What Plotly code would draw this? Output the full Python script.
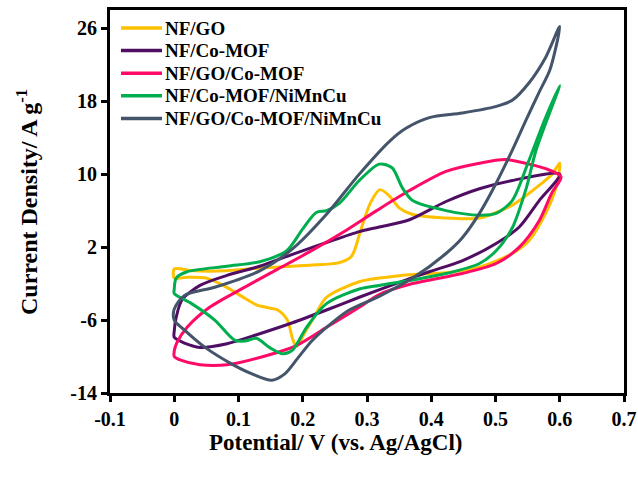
import plotly.graph_objects as go

# ---- data (Potential V vs Ag/AgCl, Current density A/g) ----
names = ["NF/GO", "NF/Co-MOF", "NF/GO/Co-MOF", "NF/Co-MOF/NiMnCu", "NF/GO/Co-MOF/NiMnCu"]
colors = ["#FFC000", "#4F0E63", "#FF0A66", "#00AE4F", "#44546A"]

go_v = [0, 0.03, 0.08, 0.133, 0.21, 0.257, 0.276, 0.29, 0.305, 0.32, 0.335, 0.35, 0.37, 0.42, 0.475,
        0.526, 0.563, 0.588, 0.60,
        0.594, 0.578, 0.552, 0.526, 0.475, 0.423, 0.371, 0.319, 0.288, 0.237, 0.215, 0.203, 0.19,
        0.184, 0.176, 0.161, 0.13, 0.105, 0.079, 0.05, 0.02, 0, 0]
go_i = [-0.4, -0.6, -0.6, -0.3, 0.0, 0.3, 1.0, 3.8, 6.8, 8.3, 7.6, 6.3, 5.6, 5.2, 5.2,
        6.6, 8.5, 10.0, 11.2,
        8.5, 5.7, 2.7, 1.3, -0.2, -0.8, -1.0, -1.4, -1.8, -3.5, -6.0, -7.4, -8.9,
        -8.0, -6.0, -4.9, -4.4, -3.4, -2.3, -1.4, -1.3, -1.4, -0.4]

mof_v = [0, 0.003, 0.012, 0.04, 0.082, 0.133, 0.184, 0.237, 0.288, 0.319, 0.366, 0.423, 0.475, 0.526, 0.60,
         0.568, 0.537, 0.501, 0.448, 0.397, 0.345, 0.288, 0.237, 0.184, 0.133, 0.082, 0.04, 0.015, 0, 0]
mof_i = [-7.2, -5.7, -3.8, -2.2, -1.1, -0.1, 1.2, 2.5, 3.7, 4.2, 5.0, 7.0, 8.4, 9.3, 10.0,
         7.1, 4.2, 2.4, 0.5, -0.7, -2.0, -3.5, -4.9, -6.3, -7.5, -8.6, -9.0, -8.5, -7.9, -7.2]

gomof_v = [0, 0.004, 0.02, 0.055, 0.107, 0.159, 0.211, 0.262, 0.315, 0.366, 0.423, 0.475, 0.516, 0.552, 0.578, 0.602,
           0.588, 0.568, 0.537, 0.501, 0.448, 0.371, 0.319, 0.288, 0.237, 0.19, 0.133, 0.082, 0.04, 0.01, 0, 0]
gomof_i = [-9.4, -8.5, -6.8, -4.6, -2.5, -0.5, 1.5, 3.6, 6.0, 8.2, 10.3, 11.2, 11.6, 11.1, 10.6, 9.7,
           8.0, 4.9, 2.0, 0.2, -0.9, -2.0, -3.2, -4.6, -6.8, -8.8, -10.1, -10.9, -10.9, -10.4, -10.0, -9.4]

mofn_v = [0, 0.003, 0.02, 0.082, 0.133, 0.175, 0.20, 0.221, 0.237, 0.257, 0.288, 0.319, 0.339, 0.355, 0.371,
          0.423, 0.475, 0.501, 0.526, 0.552, 0.578, 0.60,
          0.563, 0.548, 0.526, 0.501, 0.475, 0.423, 0.371, 0.319, 0.288, 0.237, 0.206, 0.184, 0.169, 0.148,
          0.128, 0.11, 0.094, 0.063, 0.027, 0, 0]
mofn_i = [-2.6, -1.4, -0.7, -0.1, 0.4, 1.6, 4.0, 5.8, 6.0, 6.8, 9.3, 11.1, 10.7, 8.5, 7.1,
          6.0, 5.5, 5.7, 7.1, 11.5, 16.2, 19.7,
          12.6, 8.5, 4.1, 1.6, 0.2, -0.9, -1.6, -2.2, -2.6, -4.2, -6.8, -9.3, -9.7, -9.0,
          -8.0, -8.3, -8.2, -6.0, -4.2, -3.1, -2.6]

all_v = [0, 0.016, 0.063, 0.133, 0.184, 0.237, 0.288, 0.335, 0.36, 0.397, 0.448, 0.50, 0.526, 0.552, 0.578, 0.60,
         0.585, 0.568, 0.548, 0.526, 0.501, 0.475, 0.448, 0.423, 0.371, 0.319, 0.27, 0.237, 0.214, 0.192,
         0.172, 0.152, 0.121, 0.089, 0.048, 0.016, 0, 0]
all_i = [-4.8, -3.3, -2.4, -0.6, 1.8, 5.6, 10.0, 13.6, 15.0, 16.2, 16.7, 17.4, 18.1, 20.0, 22.8, 26.2,
         21.5, 19.0, 16.0, 12.6, 9.0, 5.7, 3.0, 1.3, -1.4, -3.4, -5.0, -6.8, -8.3, -10.2,
         -11.9, -12.6, -11.9, -10.8, -9.0, -7.1, -6.0, -4.8]

x_ticks = [-0.1, 0, 0.1, 0.2, 0.3, 0.4, 0.5, 0.6, 0.7]
x_labels = ["-0.1", "0", "0.1", "0.2", "0.3", "0.4", "0.5", "0.6", "0.7"]
y_ticks = [-14, -6, 2, 10, 18, 26]
y_labels = ["-14", "-6", "2", "10", "18", "26"]

series = [(go_v, go_i), (mof_v, mof_i), (gomof_v, gomof_i), (mofn_v, mofn_i), (all_v, all_i)]

FONT = "Liberation Serif"
PL, PR, PT, PB = 110, 14, 10, 93
W, H = 638, 486
PW, PH = W - PL - PR, H - PT - PB


def px_x(px):
    return (px - PL) / PW


def px_y(py):
    return (H - PB - py) / PH


fig = go.Figure()
for (xv, yv), nm, col in zip(series, names, colors):
    fig.add_trace(go.Scatter(x=xv, y=yv, mode="lines", name=nm, showlegend=False,
                             line=dict(color=col, width=3, shape="spline", smoothing=0.8)))

# legend drawn as line samples + real text
shapes = []
annotations = []
for k, (nm, col) in enumerate(zip(names, colors)):
    yy = px_y(28 + k * 22.6)
    shapes.append(dict(type="line", xref="paper", yref="paper",
                       x0=px_x(121), x1=px_x(162), y0=yy, y1=yy,
                       line=dict(color=col, width=3.5)))
    annotations.append(dict(text=nm, xref="paper", yref="paper", x=px_x(163), y=yy,
                            xanchor="left", yanchor="middle", showarrow=False,
                            font=dict(family=FONT, size=19, color="black", weight="bold")))

annotations += [
    dict(text="Potential/ V (vs. Ag/AgCl)", xref="paper", yref="paper",
         x=px_x(335), y=px_y(442), xanchor="center", yanchor="middle",
         showarrow=False, font=dict(family=FONT, size=23, color="black", weight="bold")),
    dict(text="Current Density/ A g<sup>-1</sup>", xref="paper", yref="paper",
         x=px_x(27), y=px_y(202), xanchor="center", yanchor="middle",
         textangle=-90, showarrow=False,
         font=dict(family=FONT, size=24, color="black", weight="bold")),
]

fig.update_layout(
    width=W, height=H,
    margin=dict(l=PL, r=PR, t=PT, b=PB),
    paper_bgcolor="white", plot_bgcolor="white",
    showlegend=False,
    xaxis=dict(range=[-0.1, 0.7], tickvals=x_ticks, ticktext=x_labels, automargin=False,
               showgrid=False, zeroline=False, showline=True, mirror=True,
               linecolor="black", linewidth=3, ticks="outside", ticklen=6, tickwidth=3,
               tickcolor="black",
               tickfont=dict(family=FONT, size=20, color="black", weight="bold")),
    yaxis=dict(range=[-14, 28], tickvals=y_ticks, ticktext=y_labels, automargin=False,
               showgrid=False, zeroline=False, showline=True, mirror=True,
               linecolor="black", linewidth=3, ticks="outside", ticklen=6, tickwidth=3,
               tickcolor="black",
               tickfont=dict(family=FONT, size=20, color="black", weight="bold")),
    shapes=shapes,
    annotations=annotations,
)

fig.write_html("out.html")
